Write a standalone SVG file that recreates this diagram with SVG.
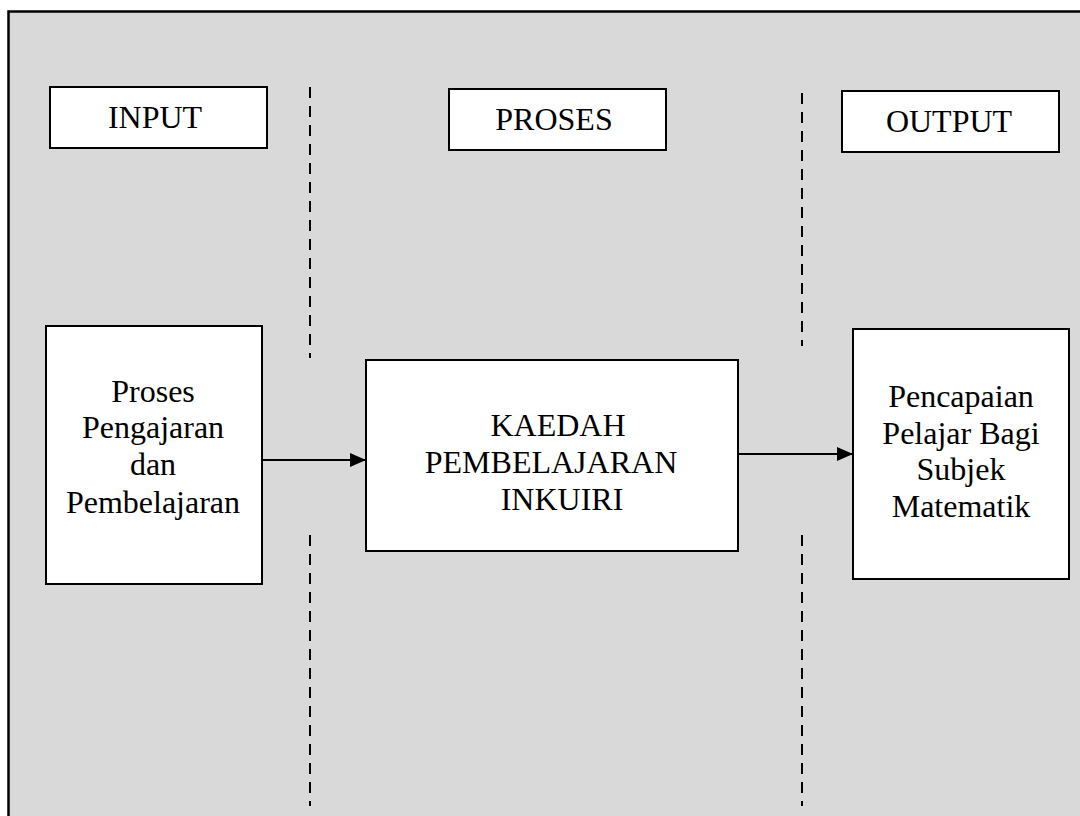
<svg xmlns="http://www.w3.org/2000/svg" width="1080" height="816" viewBox="0 0 1080 816">
<style>
.box{fill:#ffffff;stroke:#000000;stroke-width:2}
.t{font-family:'Liberation Serif','DejaVu Serif','Times New Roman',Times,serif;font-size:32px;fill:#000000;text-anchor:middle}
.dash{stroke:#000000;stroke-width:2;stroke-dasharray:11 8;fill:none}
.conn{stroke:#000000;stroke-width:2;fill:none}
</style>
<defs>
<marker id="arr" markerWidth="16" markerHeight="14" refX="16" refY="7" orient="auto" markerUnits="userSpaceOnUse">
<path d="M0,0 L16,7 L0,14 Z" fill="#000000"/>
</marker>
</defs>
<rect x="0" y="0" width="1080" height="816" fill="#ffffff"/>
<rect x="8.5" y="11.5" width="1080" height="820" fill="#d9d9d9" stroke="#000000" stroke-width="2.5"/>
<g id="dividers">
<line class="dash" x1="310" y1="87" x2="310" y2="358"/>
<line class="dash" x1="310" y1="535" x2="310" y2="806"/>
<line class="dash" x1="802" y1="93" x2="802" y2="346"/>
<line class="dash" x1="802" y1="535" x2="802" y2="806"/>
</g>
<g id="input-header">
<rect class="box" x="50" y="87" width="217" height="61"/>
<text class="t" font-family="Liberation Serif, serif" x="155" y="128">INPUT</text>
</g>
<g id="proses-header">
<rect class="box" x="449" y="89" width="217" height="61"/>
<text class="t" font-family="Liberation Serif, serif" x="554" y="130">PROSES</text>
</g>
<g id="output-header">
<rect class="box" x="842" y="91" width="217" height="61"/>
<text class="t" font-family="Liberation Serif, serif" x="949" y="132">OUTPUT</text>
</g>
<g id="input-node">
<rect class="box" x="46" y="326" width="216" height="258"/>
<text class="t" x="153" y="402">Proses</text>
<text class="t" x="153" y="438">Pengajaran</text>
<text class="t" x="153" y="475">dan</text>
<text class="t" x="153" y="513">Pembelajaran</text>
</g>
<g id="proses-node">
<rect class="box" x="366" y="360" width="372" height="191"/>
<text class="t" x="558" y="436">KAEDAH</text>
<text class="t" x="551" y="473">PEMBELAJARAN</text>
<text class="t" x="562" y="510">INKUIRI</text>
</g>
<g id="output-node">
<rect class="box" x="853" y="329" width="216" height="250"/>
<text class="t" x="961" y="407">Pencapaian</text>
<text class="t" x="961" y="444">Pelajar Bagi</text>
<text class="t" x="961" y="480">Subjek</text>
<text class="t" x="961" y="517">Matematik</text>
</g>
<g id="connectors">
<line class="conn" x1="262" y1="460" x2="366" y2="460" marker-end="url(#arr)"/>
<line class="conn" x1="738" y1="454" x2="853" y2="454" marker-end="url(#arr)"/>
</g>
</svg>
